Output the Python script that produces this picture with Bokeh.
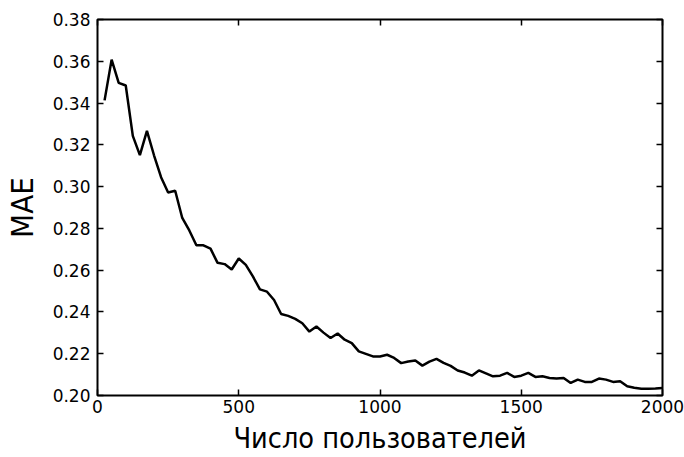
from bokeh.plotting import figure
from bokeh.models import LinearAxis, Range1d, FixedTicker
from bokeh.embed import file_html
from bokeh.resources import INLINE

users = list(range(25, 2001, 25))
mae = [
    0.3413, 0.3608, 0.3497, 0.3484, 0.3243, 0.3151, 0.3267, 0.3150, 0.3045, 0.2972,
    0.2980, 0.2850, 0.2790, 0.2719, 0.2719, 0.2703, 0.2635, 0.2629, 0.2603, 0.2656,
    0.2625, 0.2570, 0.2508, 0.2497, 0.2457, 0.2390, 0.2381, 0.2367, 0.2346, 0.2306,
    0.2330, 0.2301, 0.2275, 0.2297, 0.2267, 0.2251, 0.2211, 0.2199, 0.2187, 0.2187,
    0.2195, 0.2180, 0.2155, 0.2163, 0.2168, 0.2143, 0.2162, 0.2175, 0.2156, 0.2142,
    0.2120, 0.2110, 0.2095, 0.2120, 0.2106, 0.2092, 0.2095, 0.2108, 0.2089, 0.2095,
    0.2108, 0.2089, 0.2092, 0.2084, 0.2081, 0.2084, 0.2060, 0.2076, 0.2065, 0.2065,
    0.2081, 0.2076, 0.2065, 0.2068, 0.2044, 0.2037, 0.2032, 0.2032, 0.2033, 0.2036,
]
x_ticks = [0, 500, 1000, 1500, 2000]
y_ticks = [0.20, 0.22, 0.24, 0.26, 0.28, 0.30, 0.32, 0.34, 0.36, 0.38]
x_label = "Число пользователей"
y_label = "MAE"

TICK_FONT = "DejaVu Sans"
LABEL_FONT = "DejaVu Sans Condensed, DejaVu Sans"

p = figure(width=684, height=457, output_backend="svg", toolbar_location=None,
           x_range=Range1d(0, 2000), y_range=Range1d(0.20, 0.38),
           min_border_left=95, min_border_right=22, min_border_top=19, min_border_bottom=61,
           x_axis_label=x_label, y_axis_label=y_label)
p.grid.visible = False
p.outline_line_color = "black"
p.outline_line_width = 2
p.background_fill_color = "white"
p.border_fill_color = "white"

p.line(users, mae, line_color="black", line_width=2.5)

def style(ax):
    ax.axis_line_color = None
    ax.major_tick_in = 6
    ax.major_tick_out = 0
    ax.major_tick_line_color = "black"
    ax.major_tick_line_width = 1.5
    ax.minor_tick_line_color = None
    ax.major_label_text_font = TICK_FONT
    ax.major_label_text_font_size = "17px"
    ax.major_label_text_color = "black"
    ax.axis_label_text_font = LABEL_FONT
    ax.axis_label_text_font_style = "normal"
    ax.axis_label_text_color = "black"

xa = p.xaxis[0]
ya = p.yaxis[0]
xa.ticker = FixedTicker(ticks=x_ticks)
ya.ticker = FixedTicker(ticks=y_ticks)
ya.major_label_overrides = {t: f"{t:.2f}" for t in y_ticks}
style(xa)
style(ya)
xa.major_label_standoff = 4
xa.axis_label_text_font_size = "28.6px"
xa.axis_label_standoff = 5
ya.major_label_standoff = 7
ya.axis_label_text_font_size = "31px"
ya.axis_label_standoff = 10

top = LinearAxis(ticker=FixedTicker(ticks=x_ticks),
                 major_label_overrides={t: "" for t in x_ticks})
right = LinearAxis(ticker=FixedTicker(ticks=y_ticks),
                   major_label_overrides={t: "" for t in y_ticks})
for ax in (top, right):
    style(ax)
    ax.major_label_standoff = 0
p.add_layout(top, "above")
p.add_layout(right, "right")

open("out.html", "w").write(file_html(p, INLINE))
